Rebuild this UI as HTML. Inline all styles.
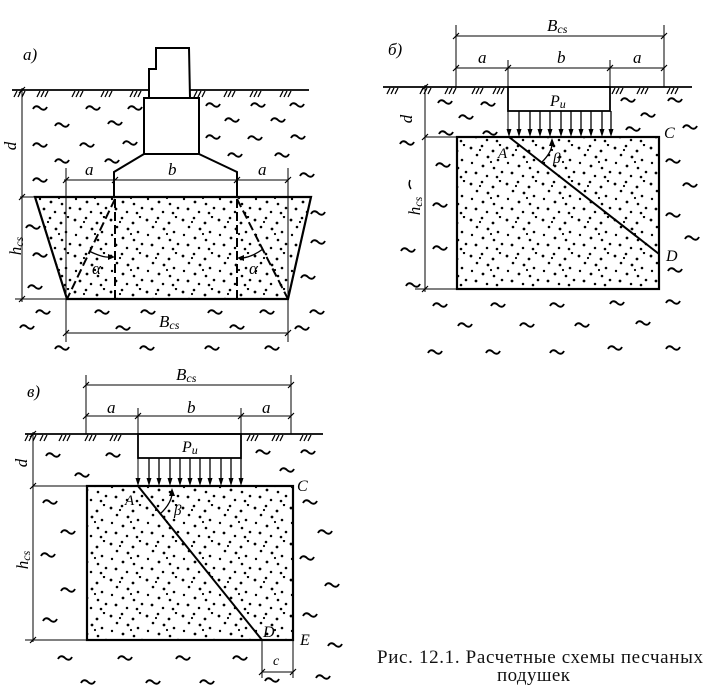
<!DOCTYPE html>
<html><head><meta charset="utf-8"><style>
html,body{margin:0;padding:0;background:#fff;}
svg{display:block;}
.lbl{font-family:"Liberation Serif",serif;font-style:italic;fill:#000;}
.cap{font-family:"Liberation Serif","Noto Serif CJK SC",serif;fill:#111;}
</style></head><body>
<svg width="721" height="694" viewBox="0 0 721 694" xmlns="http://www.w3.org/2000/svg">
<defs>
<pattern id="sand" width="36" height="36" patternUnits="userSpaceOnUse">
<g fill="#000">
<circle cx="3" cy="4" r="1.4"/><circle cx="14" cy="2" r="1.3"/><circle cx="25" cy="7" r="1.4"/><circle cx="32" cy="1" r="1.2"/>
<circle cx="9" cy="11" r="1.3"/><circle cx="20" cy="13" r="1.4"/><circle cx="30" cy="16" r="1.3"/><circle cx="4" cy="19" r="1.2"/>
<circle cx="15" cy="22" r="1.4"/><circle cx="26" cy="24" r="1.3"/><circle cx="34" cy="28" r="1.3"/><circle cx="8" cy="29" r="1.4"/>
<circle cx="19" cy="32" r="1.25"/><circle cx="29" cy="33" r="1.3"/><circle cx="12" cy="6" r="1.1"/><circle cx="23" cy="18" r="1.1"/>
</g>
</pattern>
</defs>
<rect width="721" height="694" fill="#fff"/>

<!-- ================= Diagram а ================= -->
<g fill="none" stroke="#000">
<polygon points="35,197 311,197 288,299 67,299" fill="url(#sand)" stroke-width="2.2"/>
<path d="M12,90 H149 M190,90 H309" stroke-width="1.8"/>
<path d="M149,98 V69 H156 V48 H189 L190,98" stroke-width="2"/>
<path d="M144,98 H199 L199,154 H144 Z" stroke-width="2"/>
<path d="M144,154 L114,172 V197 M199,154 L237,172 V197" stroke-width="2"/>
<path d="M115,199 V299 M237,199 V299 M115,199 L67,299 M237,199 L288,299" stroke-width="2" stroke-dasharray="9,4"/>
<path d="M64,180 H288 M66,168 V342 M288,168 V342 M66,333 H288" stroke-width="1"/>
<path d="M22,88 V302 M20,197 H35 M15,299 H67" stroke-width="1"/>
<path d="M63,183l6,-6M112,183l6,-6M234,183l6,-6M285,183l6,-6M63,336l6,-6M285,336l6,-6M19,93l6,-6M19,200l6,-6M19,302l6,-6" stroke-width="1.2"/>
<path d="M17,91l-3,6M21,91l-3,6M25,91l-3,6 M40,91l-3,6M44,91l-3,6M48,91l-3,6 M75,91l-3,6M79,91l-3,6M83,91l-3,6 M104,91l-3,6M108,91l-3,6M112,91l-3,6 M133,91l-3,6M137,91l-3,6M141,91l-3,6 M197,91l-3,6M201,91l-3,6M205,91l-3,6 M227,91l-3,6M231,91l-3,6M235,91l-3,6 M253,91l-3,6M257,91l-3,6M261,91l-3,6 M283,91l-3,6M287,91l-3,6M291,91l-3,6" stroke-width="1.3"/>
<path d="M89,251 Q103,258 110,257 M242,258 Q252,257 263,249" stroke-width="1.3"/>
</g>
<path d="M115,257 L108,254 L108,260 Z M237,258 L244,255 L244,261 Z" fill="#000"/>
<path fill="none" stroke="#000" stroke-width="1.9" d="M33,109c2,-4 5,-3 7,-1c2,2 5,3 7,-1M86,109c2,-4 5,-3 7,-1c2,2 5,3 7,-1M128,109c2,-4 5,-3 7,-1c2,2 5,3 7,-1M55,126c2,-4 5,-3 7,-1c2,2 5,3 7,-1M108,124c2,-4 5,-3 7,-1c2,2 5,3 7,-1M33,146c2,-4 5,-3 7,-1c2,2 5,3 7,-1M80,146c2,-4 5,-3 7,-1c2,2 5,3 7,-1M123,144c2,-4 5,-3 7,-1c2,2 5,3 7,-1M55,162c2,-4 5,-3 7,-1c2,2 5,3 7,-1M105,162c2,-4 5,-3 7,-1c2,2 5,3 7,-1M33,181c2,-4 5,-3 7,-1c2,2 5,3 7,-1M206,106c2,-4 5,-3 7,-1c2,2 5,3 7,-1M251,106c2,-4 5,-3 7,-1c2,2 5,3 7,-1M290,106c2,-4 5,-3 7,-1c2,2 5,3 7,-1M225,121c2,-4 5,-3 7,-1c2,2 5,3 7,-1M271,121c2,-4 5,-3 7,-1c2,2 5,3 7,-1M206,138c2,-4 5,-3 7,-1c2,2 5,3 7,-1M248,139c2,-4 5,-3 7,-1c2,2 5,3 7,-1M291,138c2,-4 5,-3 7,-1c2,2 5,3 7,-1M228,156c2,-4 5,-3 7,-1c2,2 5,3 7,-1M275,156c2,-4 5,-3 7,-1c2,2 5,3 7,-1M300,176c2,-4 5,-3 7,-1c2,2 5,3 7,-1M26,228c2,-4 5,-3 7,-1c2,2 5,3 7,-1M33,256c2,-4 5,-3 7,-1c2,2 5,3 7,-1M28,288c2,-4 5,-3 7,-1c2,2 5,3 7,-1M311,214c2,-4 5,-3 7,-1c2,2 5,3 7,-1M311,243c2,-4 5,-3 7,-1c2,2 5,3 7,-1M301,278c2,-4 5,-3 7,-1c2,2 5,3 7,-1M36,313c2,-4 5,-3 7,-1c2,2 5,3 7,-1M95,313c2,-4 5,-3 7,-1c2,2 5,3 7,-1M141,313c2,-4 5,-3 7,-1c2,2 5,3 7,-1M208,313c2,-4 5,-3 7,-1c2,2 5,3 7,-1M260,313c2,-4 5,-3 7,-1c2,2 5,3 7,-1M310,313c2,-4 5,-3 7,-1c2,2 5,3 7,-1M20,328c2,-4 5,-3 7,-1c2,2 5,3 7,-1M116,329c2,-4 5,-3 7,-1c2,2 5,3 7,-1M230,328c2,-4 5,-3 7,-1c2,2 5,3 7,-1M295,329c2,-4 5,-3 7,-1c2,2 5,3 7,-1M55,349c2,-4 5,-3 7,-1c2,2 5,3 7,-1M140,349c2,-4 5,-3 7,-1c2,2 5,3 7,-1M205,349c2,-4 5,-3 7,-1c2,2 5,3 7,-1M265,349c2,-4 5,-3 7,-1c2,2 5,3 7,-1"/>
<text class="lbl" x="23" y="60" font-size="17">а)</text>
<text class="lbl" x="85" y="175" font-size="17">a</text>
<text class="lbl" x="168" y="175" font-size="17">b</text>
<text class="lbl" x="258" y="175" font-size="17">a</text>
<text class="lbl" x="159" y="327" font-size="17">B<tspan font-size="12" dy="2">cs</tspan></text>
<text class="lbl" x="92" y="274" font-size="17">α</text>
<text class="lbl" x="249" y="274" font-size="17">α</text>
<text class="lbl" font-size="17" text-anchor="middle" transform="translate(16,146) rotate(-90)">d</text>
<text class="lbl" font-size="17" text-anchor="middle" transform="translate(21,246) rotate(-90)">h<tspan font-size="12" dy="2">cs</tspan></text>

<!-- ================= Diagram б ================= -->
<g fill="none" stroke="#000">
<rect x="457" y="137" width="202" height="152" fill="url(#sand)" stroke-width="2.2"/>
<path d="M383,87 H692" stroke-width="1.8"/>
<rect x="508" y="87" width="102" height="24" stroke-width="1.8"/>
<path d="M509,137 L659,254" stroke-width="2"/>
<path d="M456,25 V87 M664,25 V87 M456,36 H664 M456,68 H664 M508,60 V131 M610,60 V87" stroke-width="1"/>
<path d="M425,85 V292 M425,137 H457 M415,289 H457" stroke-width="1"/>
<path d="M453,39l6,-6M661,39l6,-6M453,71l6,-6M505,71l6,-6M607,71l6,-6M661,71l6,-6M422,90l6,-6M422,140l6,-6M422,292l6,-6" stroke-width="1.2"/>
<path d="M519,111V131M530,111V131M540,111V131M550,111V131M561,111V131M571,111V131M581,111V131M591,111V131M602,111V131M611,111V131" stroke-width="1.3"/>
<path d="M390,88l-3,6M394,88l-3,6M398,88l-3,6 M423,88l-3,6M427,88l-3,6M431,88l-3,6 M448,88l-3,6M452,88l-3,6M456,88l-3,6 M475,88l-3,6M479,88l-3,6M483,88l-3,6 M496,88l-3,6M500,88l-3,6M504,88l-3,6 M615,88l-3,6M619,88l-3,6M623,88l-3,6 M640,88l-3,6M644,88l-3,6M648,88l-3,6 M670,88l-3,6M674,88l-3,6M678,88l-3,6" stroke-width="1.3"/>
<path d="M542,162 Q551,153 552,145" stroke-width="1.3"/>
<path d="M410,180 q-2,5 1,9" stroke-width="1.5"/>
</g>
<path fill="#000" d="M506.5,129L511.5,129L509,137ZM516.5,129L521.5,129L519,137ZM527.5,129L532.5,129L530,137ZM537.5,129L542.5,129L540,137ZM547.5,129L552.5,129L550,137ZM558.5,129L563.5,129L561,137ZM568.5,129L573.5,129L571,137ZM578.5,129L583.5,129L581,137ZM588.5,129L593.5,129L591,137ZM599.5,129L604.5,129L602,137ZM608.5,129L613.5,129L611,137Z M552,138 L549,146 L555,146 Z"/>
<path fill="none" stroke="#000" stroke-width="1.9" d="M438,103c2,-4 5,-3 7,-1c2,2 5,3 7,-1M481,105c2,-4 5,-3 7,-1c2,2 5,3 7,-1M459,118c2,-4 5,-3 7,-1c2,2 5,3 7,-1M439,134c2,-4 5,-3 7,-1c2,2 5,3 7,-1M483,134c2,-4 5,-3 7,-1c2,2 5,3 7,-1M621,101c2,-4 5,-3 7,-1c2,2 5,3 7,-1M668,101c2,-4 5,-3 7,-1c2,2 5,3 7,-1M641,116c2,-4 5,-3 7,-1c2,2 5,3 7,-1M626,130c2,-4 5,-3 7,-1c2,2 5,3 7,-1M683,128c2,-4 5,-3 7,-1c2,2 5,3 7,-1M400,144c2,-4 5,-3 7,-1c2,2 5,3 7,-1M436,166c2,-4 5,-3 7,-1c2,2 5,3 7,-1M666,162c2,-4 5,-3 7,-1c2,2 5,3 7,-1M433,206c2,-4 5,-3 7,-1c2,2 5,3 7,-1M433,249c2,-4 5,-3 7,-1c2,2 5,3 7,-1M401,251c2,-4 5,-3 7,-1c2,2 5,3 7,-1M406,286c2,-4 5,-3 7,-1c2,2 5,3 7,-1M683,186c2,-4 5,-3 7,-1c2,2 5,3 7,-1M666,216c2,-4 5,-3 7,-1c2,2 5,3 7,-1M685,239c2,-4 5,-3 7,-1c2,2 5,3 7,-1M668,271c2,-4 5,-3 7,-1c2,2 5,3 7,-1M433,306c2,-4 5,-3 7,-1c2,2 5,3 7,-1M491,306c2,-4 5,-3 7,-1c2,2 5,3 7,-1M550,306c2,-4 5,-3 7,-1c2,2 5,3 7,-1M610,304c2,-4 5,-3 7,-1c2,2 5,3 7,-1M666,303c2,-4 5,-3 7,-1c2,2 5,3 7,-1M458,326c2,-4 5,-3 7,-1c2,2 5,3 7,-1M520,326c2,-4 5,-3 7,-1c2,2 5,3 7,-1M575,326c2,-4 5,-3 7,-1c2,2 5,3 7,-1M636,324c2,-4 5,-3 7,-1c2,2 5,3 7,-1M428,353c2,-4 5,-3 7,-1c2,2 5,3 7,-1M486,353c2,-4 5,-3 7,-1c2,2 5,3 7,-1M550,353c2,-4 5,-3 7,-1c2,2 5,3 7,-1M608,349c2,-4 5,-3 7,-1c2,2 5,3 7,-1M666,349c2,-4 5,-3 7,-1c2,2 5,3 7,-1"/>
<text class="lbl" x="388" y="55" font-size="17">б)</text>
<text class="lbl" x="547" y="31" font-size="17">B<tspan font-size="12" dy="2">cs</tspan></text>
<text class="lbl" x="478" y="63" font-size="17">a</text>
<text class="lbl" x="557" y="63" font-size="17">b</text>
<text class="lbl" x="633" y="63" font-size="17">a</text>
<text class="lbl" x="550" y="106" font-size="16">P<tspan font-size="12" dy="2">u</tspan></text>
<text class="lbl" x="498" y="158" font-size="15">A</text>
<text class="lbl" x="664" y="138" font-size="16">C</text>
<text class="lbl" x="666" y="261" font-size="16">D</text>
<text class="lbl" x="553" y="163" font-size="15">β</text>
<text class="lbl" font-size="17" text-anchor="middle" transform="translate(412,119) rotate(-90)">d</text>
<text class="lbl" font-size="17" text-anchor="middle" transform="translate(420,206) rotate(-90)">h<tspan font-size="12" dy="2">cs</tspan></text>

<!-- ================= Diagram в ================= -->
<g fill="none" stroke="#000">
<rect x="87" y="486" width="206" height="154" fill="url(#sand)" stroke-width="2.2"/>
<path d="M25,434 H323" stroke-width="1.8"/>
<rect x="138" y="434" width="103" height="24" stroke-width="1.8"/>
<path d="M138,486 L262,640" stroke-width="2"/>
<path d="M86,375 V434 M291,375 V434 M86,385 H291 M86,416 H291 M138,408 V480 M241,408 V434" stroke-width="1"/>
<path d="M33,432 V642 M33,486 H87 M25,640 H87 M262,640 V678 M293,640 V678 M262,672 H293" stroke-width="1"/>
<path d="M83,388l6,-6M288,388l6,-6M83,419l6,-6M135,419l6,-6M238,419l6,-6M288,419l6,-6M30,437l6,-6M30,489l6,-6M30,643l6,-6M259,675l6,-6M290,675l6,-6" stroke-width="1.2"/>
<path d="M149,458V478M159,458V478M170,458V478M180,458V478M190,458V478M200,458V478M210,458V478M221,458V478M231,458V478M241,458V478" stroke-width="1.3"/>
<path d="M28,435l-3,6M32,435l-3,6M36,435l-3,6 M43,435l-3,6M47,435l-3,6 M62,435l-3,6M66,435l-3,6M70,435l-3,6 M88,435l-3,6M92,435l-3,6M96,435l-3,6 M113,435l-3,6M117,435l-3,6M121,435l-3,6 M250,435l-3,6M254,435l-3,6M258,435l-3,6 M275,435l-3,6M279,435l-3,6M283,435l-3,6 M303,435l-3,6M307,435l-3,6M311,435l-3,6" stroke-width="1.3"/>
<path d="M160,514 Q170,505 172,495" stroke-width="1.3"/>
</g>
<path fill="#000" d="M135.5,478L140.5,478L138,486ZM146.5,478L151.5,478L149,486ZM156.5,478L161.5,478L159,486ZM167.5,478L172.5,478L170,486ZM177.5,478L182.5,478L180,486ZM187.5,478L192.5,478L190,486ZM197.5,478L202.5,478L200,486ZM207.5,478L212.5,478L210,486ZM218.5,478L223.5,478L221,486ZM228.5,478L233.5,478L231,486ZM238.5,478L243.5,478L241,486Z M172,488 L169,496 L175,496 Z"/>
<path fill="none" stroke="#000" stroke-width="1.9" d="M46,456c2,-4 5,-3 7,-1c2,2 5,3 7,-1M106,456c2,-4 5,-3 7,-1c2,2 5,3 7,-1M75,476c2,-4 5,-3 7,-1c2,2 5,3 7,-1M256,453c2,-4 5,-3 7,-1c2,2 5,3 7,-1M301,453c2,-4 5,-3 7,-1c2,2 5,3 7,-1M280,471c2,-4 5,-3 7,-1c2,2 5,3 7,-1M303,503c2,-4 5,-3 7,-1c2,2 5,3 7,-1M43,503c2,-4 5,-3 7,-1c2,2 5,3 7,-1M61,533c2,-4 5,-3 7,-1c2,2 5,3 7,-1M41,556c2,-4 5,-3 7,-1c2,2 5,3 7,-1M61,591c2,-4 5,-3 7,-1c2,2 5,3 7,-1M43,621c2,-4 5,-3 7,-1c2,2 5,3 7,-1M318,533c2,-4 5,-3 7,-1c2,2 5,3 7,-1M300,559c2,-4 5,-3 7,-1c2,2 5,3 7,-1M325,586c2,-4 5,-3 7,-1c2,2 5,3 7,-1M303,616c2,-4 5,-3 7,-1c2,2 5,3 7,-1M328,646c2,-4 5,-3 7,-1c2,2 5,3 7,-1M316,678c2,-4 5,-3 7,-1c2,2 5,3 7,-1M58,659c2,-4 5,-3 7,-1c2,2 5,3 7,-1M118,659c2,-4 5,-3 7,-1c2,2 5,3 7,-1M176,659c2,-4 5,-3 7,-1c2,2 5,3 7,-1M233,659c2,-4 5,-3 7,-1c2,2 5,3 7,-1M81,683c2,-4 5,-3 7,-1c2,2 5,3 7,-1M146,683c2,-4 5,-3 7,-1c2,2 5,3 7,-1M200,683c2,-4 5,-3 7,-1c2,2 5,3 7,-1M265,681c2,-4 5,-3 7,-1c2,2 5,3 7,-1"/>
<text class="lbl" x="27" y="397" font-size="17">в)</text>
<text class="lbl" x="176" y="380" font-size="17">B<tspan font-size="12" dy="2">cs</tspan></text>
<text class="lbl" x="107" y="413" font-size="17">a</text>
<text class="lbl" x="187" y="413" font-size="17">b</text>
<text class="lbl" x="262" y="413" font-size="17">a</text>
<text class="lbl" x="182" y="452" font-size="16">P<tspan font-size="12" dy="2">u</tspan></text>
<text class="lbl" x="125" y="505" font-size="15">A</text>
<text class="lbl" x="297" y="491" font-size="16">C</text>
<text class="lbl" x="263" y="637" font-size="16">D</text>
<text class="lbl" x="300" y="645" font-size="16">E</text>
<text class="lbl" x="273" y="665" font-size="14">c</text>
<text class="lbl" x="174" y="515" font-size="15">β</text>
<text class="lbl" font-size="17" text-anchor="middle" transform="translate(27,463) rotate(-90)">d</text>
<text class="lbl" font-size="17" text-anchor="middle" transform="translate(28,560) rotate(-90)">h<tspan font-size="12" dy="2">cs</tspan></text>

<text class="cap" x="377" y="663" font-size="19" textLength="326" lengthAdjust="spacing">Рис. 12.1. Расчетные схемы песчаных</text>
<text class="cap" x="497" y="681" font-size="19" textLength="73" lengthAdjust="spacing">подушек</text>
</svg>
</body></html>
